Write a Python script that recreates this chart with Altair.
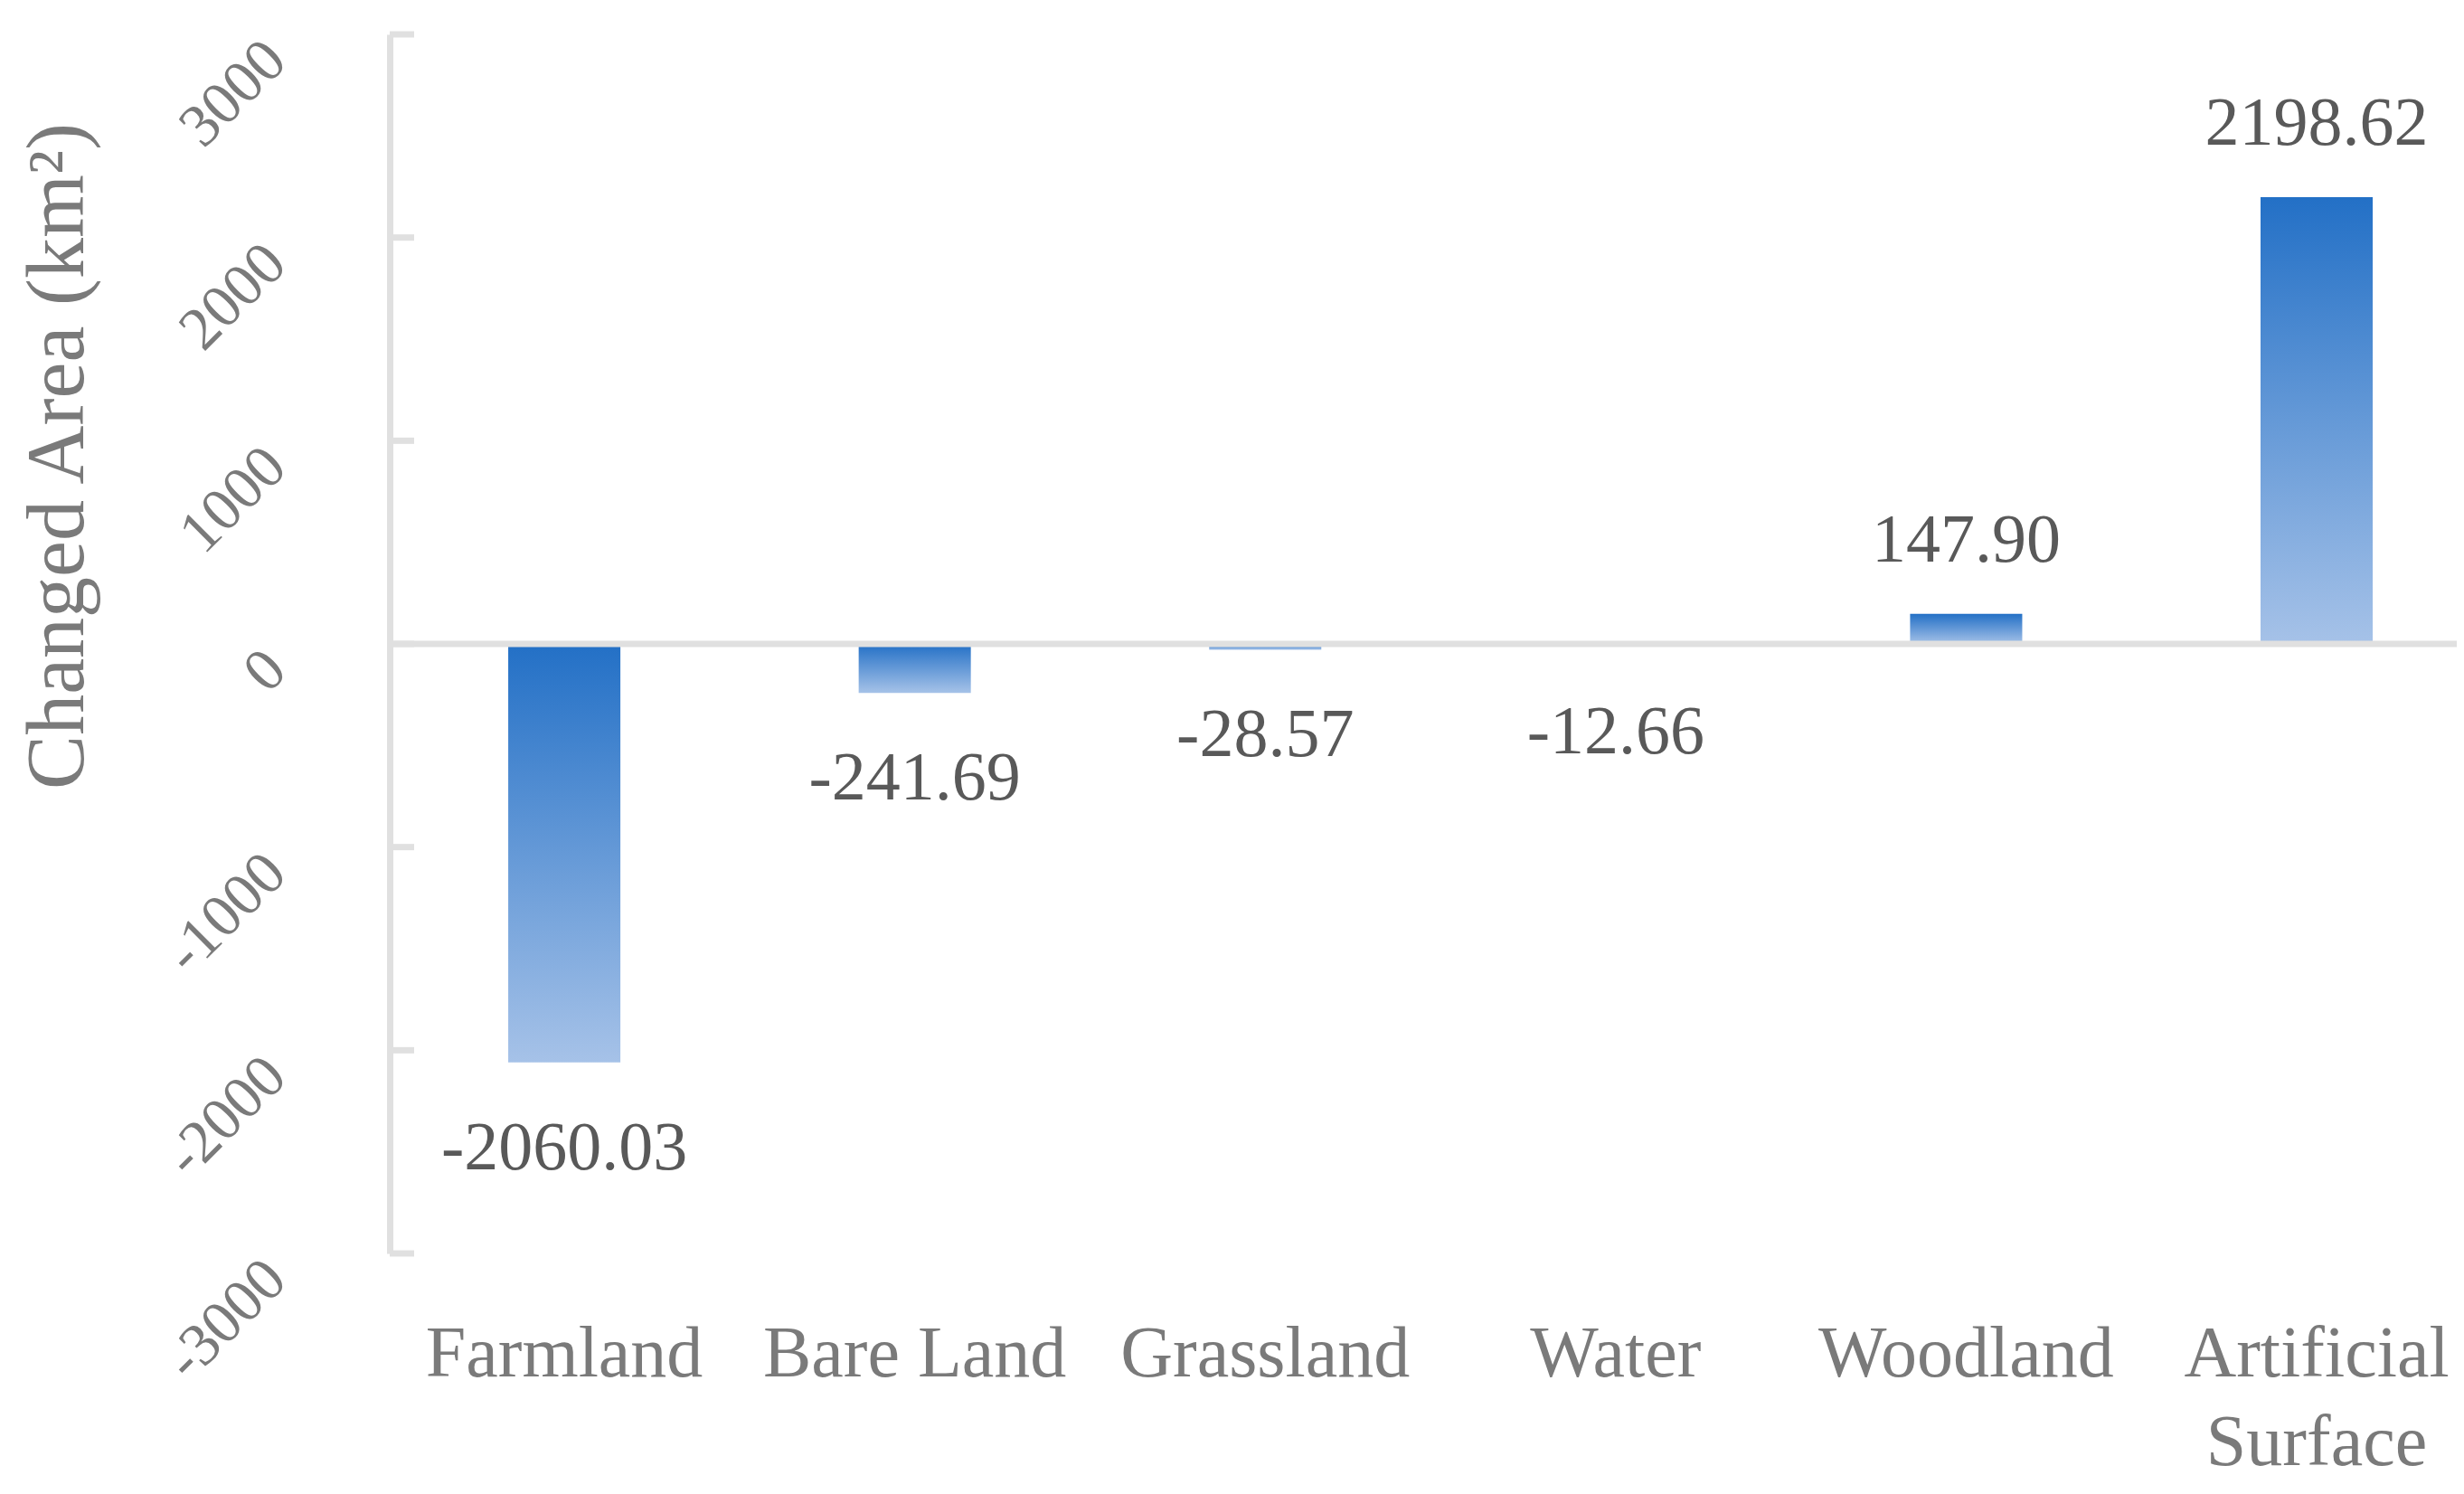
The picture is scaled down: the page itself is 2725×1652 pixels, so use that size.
import altair as alt
import pandas as pd

categories = ["Farmland", "Bare Land", "Grassland", "Water", "Woodland", "Artificial Surface"]
values = [-2060.03, -241.69, -28.57, -12.66, 147.90, 2198.62]
y_ticks = [-3000, -2000, -1000, 0, 1000, 2000, 3000]
zero = [0]

df = pd.DataFrame({"cat": categories, "value": values})
ticks_df = pd.DataFrame({"value": y_ticks})
zero_df = pd.DataFrame({"value": zero})

FONT = "Liberation Serif"
AXIS_GRAY = "#e0e0e0"
LABEL_GRAY = "#7a7a7a"
DATA_GRAY = "#595959"

yscale = alt.Scale(domain=[-3000, 3000], nice=False, zero=False)
xscale = alt.Scale(paddingInner=0.68, paddingOuter=0.289, align=0.585)

x_axis = alt.Axis(
    title=None,
    domain=False,
    ticks=False,
    tickSize=0,
    grid=False,
    labelAngle=0,
    labelFont=FONT,
    labelFontSize=80,
    labelColor=LABEL_GRAY,
    labelBaseline="alphabetic",
    labelAlign="center",
    labelPadding=135,
    labelLineHeight=98,
    labelLimit=0,
    labelOverlap=False,
    labelExpr="datum.label == 'Artificial Surface' ? ['Artificial', 'Surface'] : datum.label",
)

y_axis = alt.Axis(
    title="Changed Area (km²)",
    titleFont=FONT,
    titleFontSize=90,
    titleFontWeight="normal",
    titleColor=LABEL_GRAY,
    titleAngle=270,
    titleAlign="center",
    titleBaseline="alphabetic",
    titleX=-340,
    titleY=466,
    titleLimit=0,
    values=y_ticks,
    grid=False,
    ticks=False,
    tickSize=0,
    domain=True,
    domainColor=AXIS_GRAY,
    domainWidth=7,
    labelFont=FONT,
    labelFontSize=67,
    labelColor=LABEL_GRAY,
    labelAngle=315,
    labelAlign="right",
    labelBaseline="middle",
    labelPadding=126,
    labelOffset=18,
    labelLimit=0,
    labelOverlap=False,
    labelExpr="'' + datum.value",
)

gradient = alt.Gradient(
    gradient="linear",
    stops=[
        alt.GradientStop(color="#2370c6", offset=0),
        alt.GradientStop(color="#a6c2e8", offset=1),
    ],
    x1=0, x2=0, y1=0, y2=1,
)

X = alt.X("cat:N", sort=categories, scale=xscale, axis=x_axis)
Y = alt.Y("value:Q", scale=yscale, axis=y_axis)

bars = alt.Chart(df).mark_bar(color=gradient).encode(x=X, y=Y)

tick_marks = alt.Chart(ticks_df).mark_rule(color=AXIS_GRAY, strokeWidth=7).encode(
    y=Y,
    x=alt.value(0),
    x2=alt.value(27),
)

zero_line = alt.Chart(zero_df).mark_rule(color=AXIS_GRAY, strokeWidth=7).encode(y=Y)

label_expr = "replace(format(datum.value, '.2f'), '\u2212', '-')"

pos_labels = alt.Chart(df).transform_filter("datum.value >= 0").transform_calculate(
    lbl=label_expr
).mark_text(font=FONT, fontSize=76, color=DATA_GRAY, baseline="middle", align="center", dy=-81).encode(
    x=X, y=Y, text="lbl:N",
)

neg_labels = alt.Chart(df).transform_filter("datum.value < 0").transform_calculate(
    lbl=label_expr
).mark_text(font=FONT, fontSize=76, color=DATA_GRAY, baseline="middle", align="center", dy=95).encode(
    x=X, y=Y, text="lbl:N",
)

chart = alt.layer(bars, tick_marks, zero_line, pos_labels, neg_labels).properties(
    width=2286,
    height=1348,
    autosize=alt.AutoSizeParams(type="none"),
    padding={"left": 423, "top": 30, "right": 0, "bottom": 256},
    background="white",
).configure_view(strokeWidth=0)

chart.save("out.html", embed_options={"renderer": "svg", "actions": False})
